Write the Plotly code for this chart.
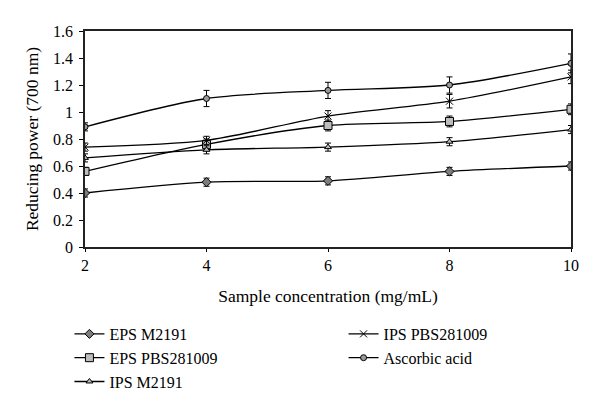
import plotly.graph_objects as go

conc = [2, 4, 6, 8, 10]
eps_m2191 = [0.40, 0.48, 0.49, 0.56, 0.60]
eps_m2191_err = [0.03, 0.03, 0.03, 0.03, 0.03]
eps_pbs = [0.56, 0.76, 0.90, 0.93, 1.02]
eps_pbs_err = [0.03, 0.04, 0.04, 0.04, 0.04]
ips_m2191 = [0.66, 0.72, 0.74, 0.78, 0.87]
ips_m2191_err = [0.03, 0.03, 0.03, 0.03, 0.03]
ips_pbs = [0.74, 0.79, 0.97, 1.08, 1.26]
ips_pbs_err = [0.03, 0.03, 0.04, 0.05, 0.05]
ascorbic = [0.89, 1.10, 1.16, 1.20, 1.36]
ascorbic_err = [0.03, 0.06, 0.06, 0.06, 0.07]

y_ticks = [0, 0.2, 0.4, 0.6, 0.8, 1, 1.2, 1.4, 1.6]
y_tick_text = ["0", "0.2", "0.4", "0.6", "0.8", "1", "1.2", "1.4", "1.6"]

FONT = "Liberation Serif"

series = [
    ("EPS M2191", eps_m2191, eps_m2191_err, "diamond", "#7d7d7d", 7, "legend"),
    ("EPS PBS281009", eps_pbs, eps_pbs_err, "square", "#bdbdbd", 8, "legend"),
    ("IPS M2191", ips_m2191, ips_m2191_err, "triangle-up", "#bdbdbd", 6, "legend"),
    ("IPS PBS281009", ips_pbs, ips_pbs_err, "x-thin", "black", 7, "legend2"),
    ("Ascorbic acid", ascorbic, ascorbic_err, "circle", "#9a9a9a", 6, "legend2"),
]

fig = go.Figure()
for name, vals, err, sym, col, size, leg in series:
    fig.add_trace(go.Scatter(
        x=conc, y=vals, name=name, mode="lines+markers",
        line=dict(color="black", width=1.3, shape="spline", smoothing=0.8),
        marker=dict(symbol=sym, color=col, size=size,
                    line=dict(color="black", width=1)),
        error_y=dict(type="data", array=err, visible=True,
                     color="black", thickness=1, width=3),
        legend=leg,
    ))

axis_common = dict(
    showline=True, linecolor="#222222", linewidth=1.6, mirror=True,
    ticks="outside", tickcolor="black", tickwidth=1,
    showgrid=False, zeroline=False,
    tickfont=dict(family=FONT, size=16, color="black"),
)

fig.update_layout(
    width=600, height=411,
    margin=dict(l=85, r=29, t=31, b=164),
    plot_bgcolor="white", paper_bgcolor="white",
    font=dict(family=FONT, size=16, color="black"),
    xaxis=dict(range=[2, 10], tickvals=conc, ticklen=3, **axis_common,
               title=dict(text="Sample concentration (mg/mL)",
                          font=dict(family=FONT, size=17.5), standoff=17)),
    yaxis=dict(range=[0, 1.6], tickvals=y_ticks, ticktext=y_tick_text,
               ticklen=4, ticklabelstandoff=3, **axis_common,
               title=dict(text="Reducing power (700 nm)",
                          font=dict(family=FONT, size=17.5), standoff=10)),
    legend=dict(x=-0.032, y=-0.324, xanchor="left", yanchor="top",
                orientation="v", font=dict(family=FONT, size=16),
                bgcolor="rgba(0,0,0,0)", tracegroupgap=0, itemwidth=30),
    legend2=dict(x=0.532, y=-0.324, xanchor="left", yanchor="top",
                 orientation="v", font=dict(family=FONT, size=16),
                 bgcolor="rgba(0,0,0,0)", tracegroupgap=0, itemwidth=30),
)

fig.write_html(
    "out.html",
    config={"displayModeBar": False},
    post_script="document.body.style.margin='0';document.body.style.padding='0';",
)
